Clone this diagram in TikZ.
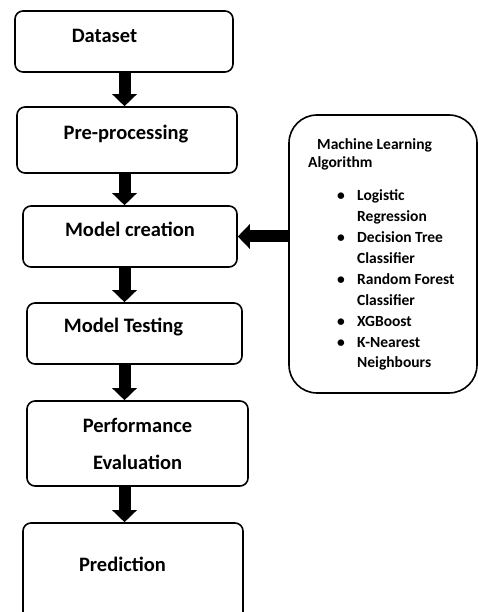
\documentclass[tikz,border=0pt]{standalone}
\usepackage{fontspec}
\setmainfont{Carlito}
\usetikzlibrary{arrows.meta}
\begin{document}
\begin{tikzpicture}[x=1pt,y=1pt,
  stepbox/.style={draw, line width=1.6pt, rounded corners=8pt, inner sep=0pt},
  mlbox/.style={draw, line width=1.6pt, rounded corners=28pt, inner sep=0pt},
  lbl/.style={anchor=base, inner sep=0pt, font=\fontsize{20.5}{24}\selectfont\bfseries},
  bigarrow/.style={line width=12pt, -{Triangle[width=24pt,length=12pt]}},
]
\clip (0,0) rectangle (478,612);
\fill[white] (0,0) rectangle (478,612);
\coordinate (arrx) at (124.5,0);
% boxes
\node[stepbox, minimum width=218pt, minimum height=61pt] (b1) at (124,570.5) {};
\node[stepbox, minimum width=220pt, minimum height=66pt] (b2) at (127,472) {};
\node[stepbox, minimum width=214pt, minimum height=61pt] (b3) at (130,375.5) {};
\node[stepbox, minimum width=215pt, minimum height=61pt] (b4) at (134.5,278.5) {};
\node[stepbox, minimum width=221pt, minimum height=85pt] (b5) at (137.5,168.5) {};
\node[stepbox, minimum width=220pt, minimum height=107pt] (b6) at (133,35.5) {};
\node[mlbox, minimum width=188pt, minimum height=278pt] (ml) at (383,358) {};
% labels
\node[lbl] (t1) at (104.5,569.5) {Dataset};
\node[lbl] (t2) at (126,472) {Pre-processing};
\node[lbl] (t3) at (130,375.3) {Model creation};
\node[lbl] (t4) at (123.5,279) {Model Testing};
\node[lbl] (t5a) at (137.5,179.7) {Performance};
\node[lbl] (t5b) at (137.5,142) {Evaluation};
\node[lbl] (t6) at (122.5,40.3) {Prediction};
% ML text
\node[anchor=base west, inner sep=0pt, align=left,
      font=\fontsize{15.5}{20.9}\selectfont\bfseries] (mltext) at (308,244)
  {\hspace*{9pt}Machine Learning\\[-2.9pt]
   Algorithm\\[12.1pt]
   \hspace*{29pt}\makebox[20pt][l]{•}Logistic\\
   \hspace*{49pt}Regression\\
   \hspace*{29pt}\makebox[20pt][l]{•}Decision Tree\\
   \hspace*{49pt}Classifier\\
   \hspace*{29pt}\makebox[20pt][l]{•}Random Forest\\
   \hspace*{49pt}Classifier\\
   \hspace*{29pt}\makebox[20pt][l]{•}XGBoost\\
   \hspace*{29pt}\makebox[20pt][l]{•}K-Nearest\\
   \hspace*{49pt}Neighbours};
% arrows
\draw[bigarrow] (b1.south -| arrx) -- (b2.north -| arrx);
\draw[bigarrow] (b2.south -| arrx) -- (b3.north -| arrx);
\draw[bigarrow] (b3.south -| arrx) -- (b4.north -| arrx);
\draw[bigarrow] (b4.south -| arrx) -- (b5.north -| arrx);
\draw[bigarrow] (b5.south -| arrx) -- (b6.north -| arrx);
\draw[bigarrow] (ml.west |- b3.east) -- (b3.east);
\end{tikzpicture}
\end{document}
